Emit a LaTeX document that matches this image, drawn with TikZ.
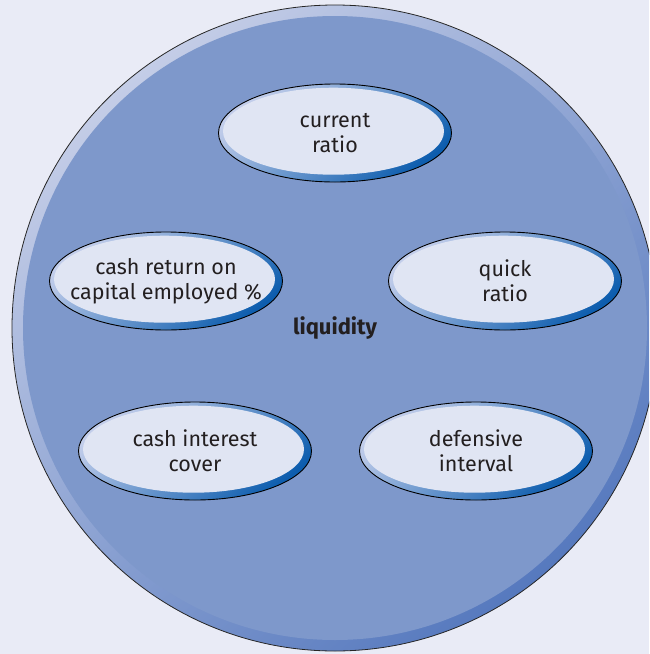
\documentclass[tikz,border=0pt]{standalone}
\usepackage{fontspec}
\setmainfont{Fira Sans}
\usetikzlibrary{shapes.geometric}

\definecolor{bgcol}{HTML}{E9EBF6}
\definecolor{discfill}{HTML}{7E98CB}
\definecolor{disclight}{HTML}{C4CDE7}
\definecolor{discdark}{HTML}{5679BE}
\definecolor{ovalfill}{HTML}{E0E5F3}
\definecolor{ovallight}{HTML}{C3CEEB}
\definecolor{ovaldark}{HTML}{0D5DAE}
\definecolor{txt}{HTML}{231F20}

\begin{document}
\begin{tikzpicture}[x=1pt,y=-1pt,
  disc/.style={circle, draw=black!85, line width=0.8pt, minimum size=646pt, inner sep=0pt,
    top color=disclight, bottom color=discdark, shading angle=40,
    path picture={\fill[discfill] (path picture bounding box.center) circle (312pt);},
    font=\fontsize{22}{26}\selectfont\bfseries, text=txt},
  ratio/.style={ellipse, draw=black, line width=0.9pt, minimum width=233pt, minimum height=98pt,
    inner xsep=-40pt, inner ysep=0pt,
    top color=ovallight, bottom color=ovaldark, shading angle=40,
    path picture={\fill[ovalfill] ([xshift=-1.5pt,yshift=1.8pt]path picture bounding box.center) ellipse (110.5pt and 43.5pt);},
    align=center, font=\fontsize{21.5}{25}\selectfont, text=txt}]

\useasboundingbox (0,0) rectangle (649,654);
\fill[bgcol] (0,0) rectangle (649,654);
\clip (0,0) rectangle (649,654);

\node (liquidity) [disc] at (335,328) {liquidity};

\node (current) [ratio] at (335,133) {current\\ratio};
\node (cashret) [ratio] at (166,281) {cash return on\\capital employed \%};
\node (quick) [ratio] at (505,281) {quick\\ratio};
\node (cashint) [ratio] at (195,451) {cash interest\\cover};
\node (defens) [ratio] at (476,451) {defensive\\interval};

\end{tikzpicture}
\end{document}
